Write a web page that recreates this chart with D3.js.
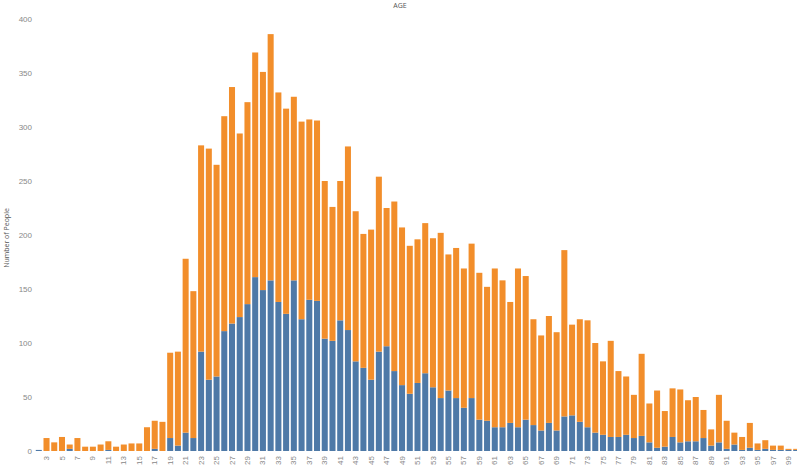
<!DOCTYPE html>
<html><head><meta charset="utf-8">
<script src="https://cdn.jsdelivr.net/npm/d3@7"></script>
<style>body{margin:0;background:#fff;} svg{display:block;font-family:"Open Sans",Lato,sans-serif;}</style>
</head><body><svg id="c" width="797" height="470"></svg>
<script>
const ages = d3.range(2, 101);
const totalCounts = [1,12,8,13,6,12,4,4,6,9,4,6,7,7,22,28,27,91,92,178,148,283,280,265,310,337,294,323,369,351,386,332,317,328,305,307,306,250,226,250,282,222,201,205,254,225,231,207,190,196,211,197,202,182,188,169,192,165,152,169,158,138,169,162,122,107,125,110,186,117,122,121,100,83,102,74,69,52,90,44,56,37,58,57,47,50,38,20,52,28,17,13,26,7,10,5,5,2,2];
const blueCounts  = [1,0,0,0,2,0,0,0,0,1,0,0,0,0,0,2,0,12,5,17,12,92,66,69,111,118,124,136,161,149,158,138,127,158,122,140,139,104,102,121,112,83,77,66,92,97,74,61,53,63,72,59,49,56,49,40,49,29,28,22,22,26,22,29,24,19,26,19,32,33,27,22,17,15,13,13,15,12,14,8,3,4,13,8,9,9,12,5,8,2,6,1,3,1,2,1,1,1,1];
const orangeCounts = totalCounts.map((t,i)=>t-blueCounts[i]);
const yTicks = [0,50,100,150,200,250,300,350,400];
const xTickAges = d3.range(3, 100, 2);

const svg = d3.select("#c");
const x = d3.scaleBand().domain(ages).range([35, 800]).paddingInner(0.22).paddingOuter(0.1);
const y = d3.scaleLinear().domain([0,400]).range([451,19]);

const data = ages.map((a,i)=>({age:a, blue:blueCounts[i], orange:orangeCounts[i]}));
const stack = d3.stack().keys(["blue","orange"])(data);
const colors = {blue:"#4e79a7", orange:"#f28e2b"};

svg.append("g").selectAll("g").data(stack).join("g")
  .attr("fill", d=>colors[d.key])
  .selectAll("rect").data(d=>d).join("rect")
  .attr("x", d=>x(d.data.age))
  .attr("width", x.bandwidth())
  .attr("y", d=>y(d[1]))
  .attr("height", d=>Math.max(0, y(d[0])-y(d[1])));

const yAxis = svg.append("g").attr("transform","translate(32,0)")
  .call(d3.axisLeft(y).tickValues(yTicks).tickSize(0).tickPadding(0));
yAxis.select(".domain").remove();
yAxis.selectAll("text").attr("fill","#888").style("font-size","8px");

const xAxis = svg.append("g").attr("transform","translate(0,454)")
  .call(d3.axisBottom(x).tickValues(xTickAges).tickSize(0).tickPadding(0));
xAxis.select(".domain").remove();
xAxis.selectAll("text").attr("fill","#888").style("font-size","8px")
  .attr("transform","rotate(-90)").attr("text-anchor","end")
  .attr("x",-2).attr("y",0).attr("dy","0.32em");

svg.append("text").attr("x",400).attr("y",8).attr("text-anchor","middle")
  .attr("fill","#555").style("font-size","7px").text("AGE");
svg.append("text").attr("transform","translate(9,238) rotate(-90)").attr("text-anchor","middle")
  .attr("fill","#555").style("font-size","7px").text("Number of People");
</script></body></html>
